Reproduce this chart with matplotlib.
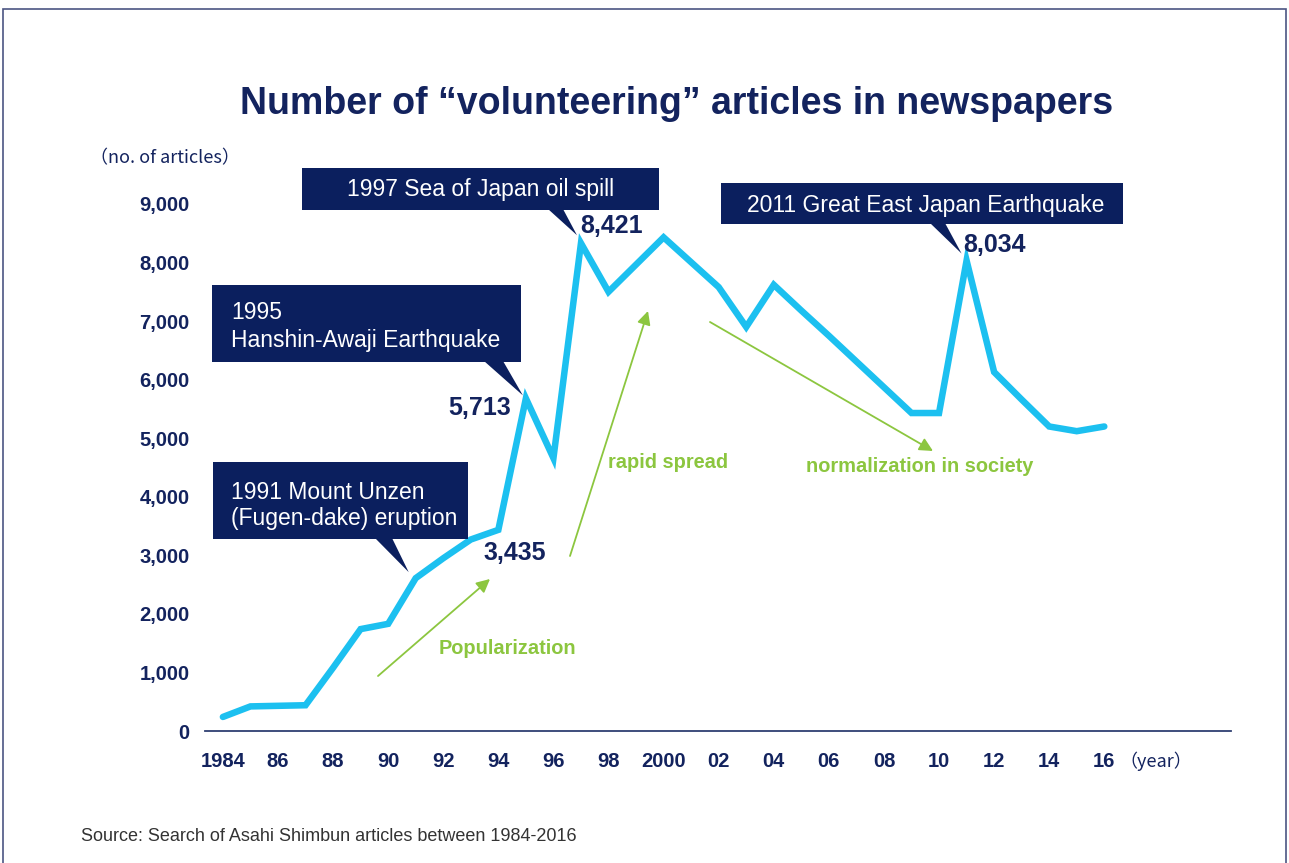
import matplotlib
matplotlib.use("Agg")
import matplotlib.pyplot as plt
from matplotlib.patches import Rectangle, Polygon

W, H = 1289, 863

# data
years = list(range(1984, 2017))
articles = [240, 420, 430, 440, 1080, 1740, 1830, 2610, 2950, 3270,
            3435, 5680, 4660, 8330, 7500, 7965, 8430, 8005, 7580, 6900,
            7620, 7180, 6750, 6310, 5870, 5430, 5430, 8034, 6130, 5660,
            5200, 5120, 5200]
tick_years = list(range(1984, 2017, 2))
tick_labels = ["1984", "86", "88", "90", "92", "94", "96", "98", "2000",
               "02", "04", "06", "08", "10", "12", "14", "16"]
y_ticks = [0, 1000, 2000, 3000, 4000, 5000, 6000, 7000, 8000, 9000]

navy = "#13235e"
box_navy = "#0b1f5e"
cyan = "#1cc0f0"
green = "#8cc63f"
plt.rcParams['font.family'] = ['Liberation Sans', 'DejaVu Sans']


def fpx(x, y):
    # pixel (from top-left) -> figure fraction
    return (x / W, 1 - y / H)


fig = plt.figure(figsize=(W / 100, H / 100), dpi=100)
ax = fig.add_axes([205 / W, (H - 731) / H, (1231 - 205) / W, 556.3 / H])
ax.plot(years, articles, color=cyan, lw=4.7, solid_joinstyle='miter',
        solid_capstyle='round', zorder=3)
ax.set_xlim(1983.35, 2020.6)
ax.set_ylim(0, 9500)

ax.set_xticks(tick_years)
ax.set_xticklabels(tick_labels)
ax.set_yticks(y_ticks)
ax.set_yticklabels([f"{v:,}" for v in y_ticks])
ax.tick_params(length=0, labelsize=14.5, labelcolor=navy)
ax.tick_params(axis='x', pad=15)
ax.tick_params(axis='y', pad=11)
for lab in ax.get_xticklabels() + ax.get_yticklabels():
    lab.set_fontweight('bold')
for s in ['top', 'right', 'left']:
    ax.spines[s].set_visible(False)
ax.spines['bottom'].set_color('#2f3f72')
ax.spines['bottom'].set_linewidth(1.3)

# frame
fig.patches.append(Rectangle(fpx(3, 875), (1286 - 3) / W, (875 - 9) / H,
                             transform=fig.transFigure, fill=False,
                             edgecolor='#4b5583', lw=1.2))

fig.text(677 / W, 1 - 104 / H, "Number of \u201cvolunteering\u201d articles in newspapers",
         ha='center', va='center', fontsize=27, fontweight='bold', color=navy)
fig.text(240 / W, 1 - 158 / H, "\uff08no. of articles\uff09", ha='right', va='center',
         fontsize=13, color=navy, family=['Noto Sans CJK JP', 'DejaVu Sans'])
fig.text(1119 / W, 1 - 761 / H, "\uff08year\uff09", ha='left', va='center',
         fontsize=13, color=navy, family=['Noto Sans CJK JP', 'DejaVu Sans'])
fig.text(81 / W, 1 - 836 / H, "Source: Search of Asahi Shimbun articles between 1984-2016",
         ha='left', va='center', fontsize=13, color='#333333')

to_fig = fig.transFigure.inverted()


def callout(box, lines, base, year, off):
    x0, y0, x1, y1 = box
    fig.patches.append(Rectangle(fpx(x0, y1), (x1 - x0) / W, (y1 - y0) / H,
                                 transform=fig.transFigure, color=box_navy, lw=0))
    val = articles[years.index(year)]
    dx, dy = ax.transData.transform((year, val))
    tip = to_fig.transform((dx + off[0], dy + off[1]))
    fig.patches.append(Polygon([fpx(base[0], y1 - 1), fpx(base[1], y1 - 1), tip],
                               transform=fig.transFigure, color=box_navy, lw=0))
    for (tx, ty, t, ha) in lines:
        fig.text(tx / W, 1 - ty / H, t, ha=ha, va='center', fontsize=16.5, color='white')


callout((302, 168, 659, 210), [(481, 189, "1997 Sea of Japan oil spill", 'center')],
        (548, 563), 1997, (-4, 8))
callout((721, 183, 1123, 224), [(926, 205, "2011 Great East Japan Earthquake", 'center')],
        (930, 945), 2011, (-5, 7))
callout((212, 285, 521, 362), [(231, 312, "1995", 'left'),
                               (231, 340, "Hanshin-Awaji Earthquake", 'left')],
        (484, 503), 1995, (-3, 3))
callout((213, 462, 468, 539), [(231, 492, "1991 Mount Unzen", 'left'),
                               (231, 518, "(Fugen-dake) eruption", 'left')],
        (375, 392), 1991, (-7, 6))


def value_label(year, text, ha, off):
    val = articles[years.index(year)]
    ax.annotate(text, xy=(year, val), xytext=(off[0] * 0.72, off[1] * 0.72),
                textcoords='offset points', ha=ha, va='center', fontsize=18,
                fontweight='bold', color=navy, annotation_clip=False)


value_label(1997, "8,421", 'left', (-1, 17))
value_label(2011, "8,034", 'left', (-3, 16))
value_label(1995, "5,713", 'right', (-15, -10))
value_label(1994, "3,435", 'left', (-15, -23))

# green trend arrows
arrows = [((378, 676), (490, 579)), ((570, 556), (648, 311)), ((710, 322), (933, 451))]
for start, end in arrows:
    ax.annotate('', xy=fpx(*end), xytext=fpx(*start), xycoords='figure fraction',
                textcoords='figure fraction',
                arrowprops=dict(arrowstyle='-|>', color=green, lw=1.3,
                                mutation_scale=20, shrinkA=0, shrinkB=0))
for x, y, t in [(507, 648, "Popularization"), (668, 462, "rapid spread"),
                (920, 466, "normalization in society")]:
    fig.text(x / W, 1 - y / H, t, ha='center', va='center', fontsize=14.4,
             fontweight='bold', color=green)

fig.savefig("out.png", dpi=100)
